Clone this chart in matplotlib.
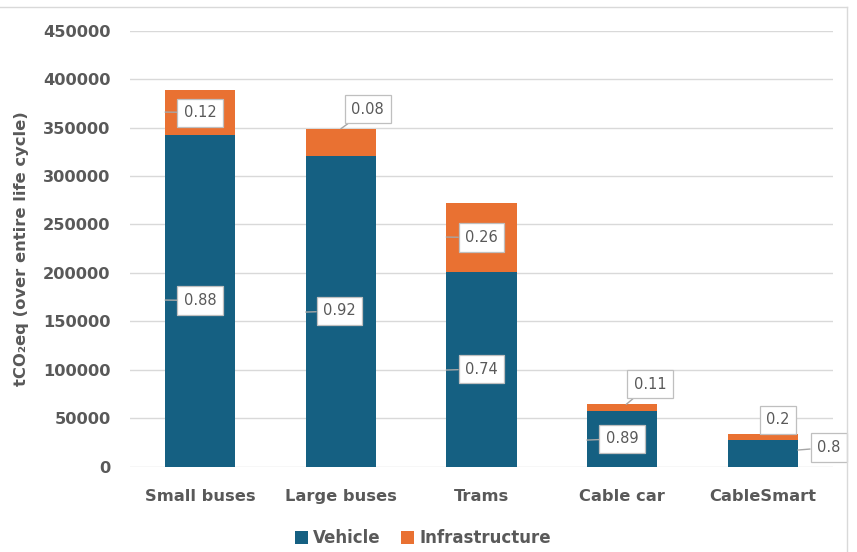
import matplotlib

matplotlib.use("Agg")
import matplotlib.pyplot as plt
from matplotlib.lines import Line2D
import numpy as np

categories = ["Small buses", "Large buses", "Trams", "Cable car", "CableSmart"]
totals = [388700, 348200, 271800, 64400, 34000]
vehicle_share = [0.88, 0.92, 0.74, 0.89, 0.8]
infra_share = [0.12, 0.08, 0.26, 0.11, 0.2]
y_ticks = [0, 50000, 100000, 150000, 200000, 250000, 300000, 350000, 400000, 450000]

# callout placement: (text x, text y, anchor x, anchor y) in data units
vehicle_callouts = [
    (0.0, 171500, -0.25, 172000),
    (0.99, 160700, 0.75, 159600),
    (2.0, 100800, 1.75, 99800),
    (3.0, 28900, 2.75, 27500),
    (4.47, 19800, 4.25, 17200),
]
infra_callouts = [
    (0.0, 365500, -0.25, 366000),
    (1.19, 369000, 1.0, 348800),
    (2.0, 236500, 1.75, 237000),
    (3.2, 85300, 3.03, 64400),
    (4.11, 48200, 4.03, 34000),
]

VEHICLE = "#156082"
INFRA = "#E97132"
TEXT = "#595959"

plt.rcParams["font.family"] = ["DejaVu Sans"]

fig = plt.figure(figsize=(8.57, 5.52), dpi=100)
ax = fig.add_axes([130 / 857, 1 - 466.7 / 552, 703 / 857, 436 / 552])

x = np.arange(len(categories))
vehicle = np.array(totals) * np.array(vehicle_share)
infra = np.array(totals) * np.array(infra_share)

ax.bar(x, vehicle, width=0.5, color=VEHICLE, label="Vehicle", zorder=2)
ax.bar(x, infra, width=0.5, bottom=vehicle, color=INFRA, label="Infrastructure", zorder=2)

ax.set_xlim(-0.5, len(categories) - 0.5)
ax.set_ylim(0, 450000)
ax.set_yticks(y_ticks)
ax.set_yticklabels([str(t) for t in y_ticks])
ax.set_xticks(x)
ax.set_xticklabels(categories)
ax.tick_params(axis="both", length=0, labelcolor=TEXT, labelsize=11.7)
ax.tick_params(axis="y", pad=14)
ax.tick_params(axis="x", pad=16)
for lbl in ax.get_xticklabels() + ax.get_yticklabels():
    lbl.set_fontweight("bold")
ax.grid(axis="y", color="#d9d9d9", linewidth=1.0, zorder=0)
ax.set_axisbelow(True)
for spine in ax.spines.values():
    spine.set_visible(False)

box = dict(boxstyle="square,pad=0.45", fc="white", ec="#bfbfbf", lw=0.9)
arrow = dict(arrowstyle="-", color="#a6a6a6", lw=1.0, shrinkA=0, shrinkB=0)
for share, (tx, ty, axx, ayy) in zip(vehicle_share + infra_share, vehicle_callouts + infra_callouts):
    ax.annotate(
        f"{share:g}",
        xy=(axx, ayy),
        xytext=(tx, ty),
        ha="center",
        va="center",
        fontsize=10.5,
        color=TEXT,
        bbox=box,
        arrowprops=arrow,
        zorder=5,
    )

fig.text(22 / 857, 1 - 249 / 552, "tCO\u2082eq (over entire life cycle)", rotation=90,
         ha="center", va="center", fontsize=11.8, fontweight="bold", color=TEXT)

handles, labels = ax.get_legend_handles_labels()
fig.legend(handles, labels, loc="center", bbox_to_anchor=(423 / 857, 1 - 538 / 552), ncol=2,
           frameon=False, handlelength=0.8, handleheight=0.8, handletextpad=0.3, columnspacing=1.2,
           prop={"size": 12, "weight": "bold"}, labelcolor=TEXT)

# chart area outline
fig.add_artist(Line2D([0, 847 / 857], [1 - 7 / 552, 1 - 7 / 552], transform=fig.transFigure,
                      color="#d9d9d9", lw=1.0))
fig.add_artist(Line2D([847 / 857, 847 / 857], [0, 1 - 7 / 552], transform=fig.transFigure,
                      color="#d9d9d9", lw=1.0))

fig.savefig("out.png", dpi=100)
